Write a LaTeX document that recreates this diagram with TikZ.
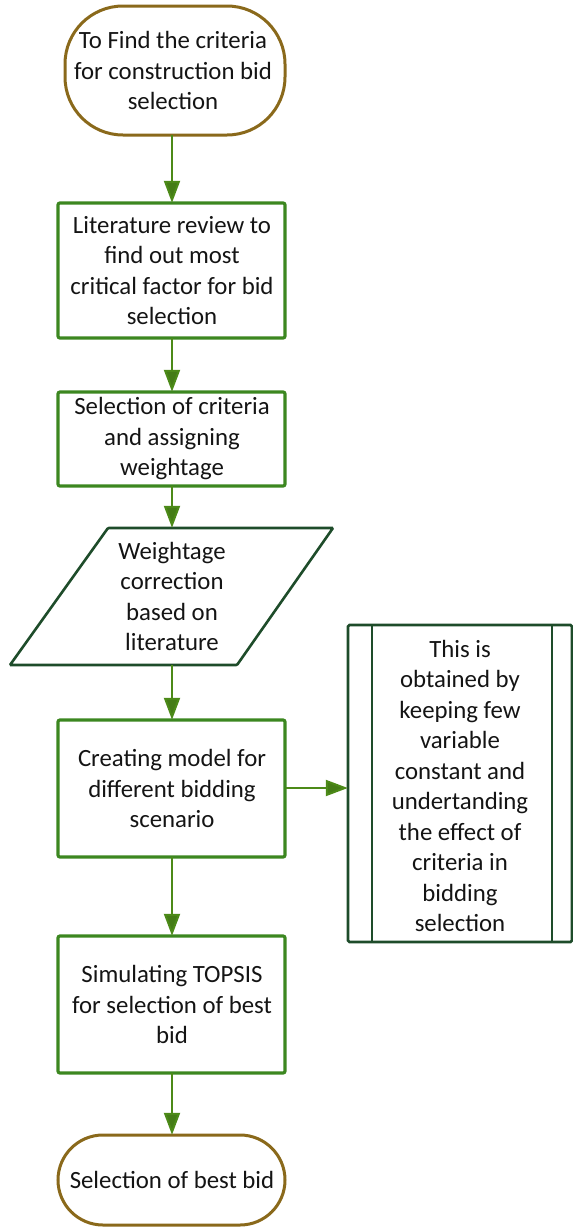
\documentclass[tikz,border=0pt]{standalone}
\usepackage{fontspec}
\setmainfont{Carlito}
\usetikzlibrary{arrows.meta}
\definecolor{boxgreen}{HTML}{3C8720}
\definecolor{darkgreen}{HTML}{1E4C2A}
\definecolor{termbrown}{HTML}{8A691B}
\definecolor{arrowgreen}{HTML}{4C8A18}
\tikzset{
  every node/.style={font=\fontsize{24.8}{30.5}\selectfont, text=black!92, align=center, inner sep=0pt},
  terminal/.style={draw=termbrown, line width=3pt, fill=white},
  process/.style={draw=boxgreen, line width=3.2pt, rounded corners=2pt},
  subproc/.style={draw=darkgreen, line width=2.6pt, rounded corners=1.5pt},
  flow/.style={draw=arrowgreen, line width=2pt,
    -{Triangle[length=22pt,width=16pt,fill=arrowgreen!90!black]}},
}
\begin{document}
\begin{tikzpicture}[x=1pt,y=-1pt]
\useasboundingbox (0,0) rectangle (573,1227);

% start terminal
\draw[terminal, rounded corners=58pt] (65,6) rectangle (285,135);
\node (start) at (173,70.5) [minimum width=220pt, minimum height=129pt]
  {To Find the criteria\\for construction bid\\selection};

% process steps
\draw[process] (58,203) rectangle (285,338);
\node (lit) at (172,270.5) [minimum width=227pt, minimum height=135pt]
  {Literature review to\\find out most\\critical factor for bid\\selection};

\draw[process] (58,392) rectangle (285,486);
\node (sel) at (172,439) [minimum width=227pt, minimum height=94pt]
  {Selection of criteria\\and assigning\\weightage};

% data (parallelogram)
\draw[subproc, rounded corners=1pt] (108,528) -- (333,528) -- (237,665) -- (10,665) -- cycle;
\node (wc) at (172,596.5) [minimum width=180pt, minimum height=137pt]
  {Weightage\\correction\\based on\\literature};

\draw[process] (58,720) rectangle (285,857);
\node (model) at (172,788.5) [minimum width=227pt, minimum height=137pt]
  {Creating model for\\different bidding\\scenario};

% predefined process
\draw[subproc] (348,625) rectangle (572,942);
\draw[darkgreen, line width=2.6pt] (372,625) -- (372,942) (552,625) -- (552,942);
\node (note) at (460,786) [minimum width=224pt, minimum height=317pt]
  {This is\\obtained by\\keeping few\\variable\\constant and\\undertanding\\the effect of\\criteria in\\bidding\\selection};

\draw[process] (58,936) rectangle (285,1073);
\node (topsis) at (172,1004.5) [minimum width=227pt, minimum height=137pt]
  {Simulating TOPSIS\\for selection of best\\bid};

% end terminal
\draw[terminal, rounded corners=45pt] (58,1135) rectangle (285,1225);
\node (end) at (172,1180) [minimum width=227pt, minimum height=90pt]
  {Selection of best bid};

% connectors
\draw[flow] (lit.north |- start.south) -- (lit.north);
\draw[flow] (lit.south) -- (sel.north);
\draw[flow] (sel.south) -- (wc.north);
\draw[flow] (wc.south) -- (model.north);
\draw[flow] (model.east |- 0,788) -- (note.west |- 0,788);
\draw[flow] (model.south) -- (topsis.north);
\draw[flow] (topsis.south) -- (end.north);
\end{tikzpicture}
\end{document}
